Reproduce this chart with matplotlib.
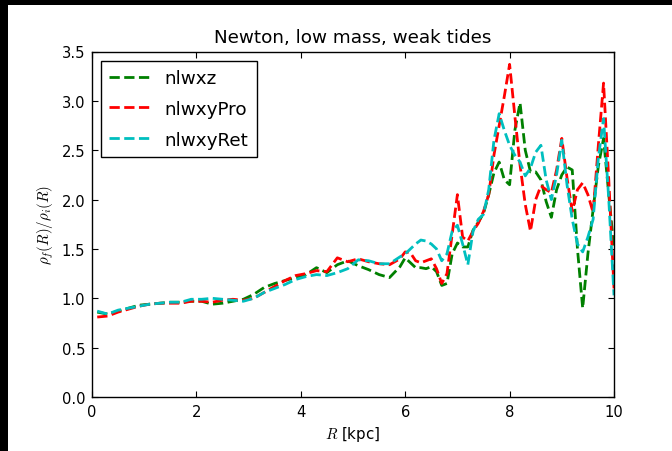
import matplotlib
matplotlib.use('Agg')
import matplotlib.pyplot as plt
from matplotlib.patches import Rectangle

# radial grid: coarse inner part, finer outer part
r_inner = [0.1, 0.3, 0.5, 0.7, 0.9, 1.1, 1.3, 1.5, 1.7, 1.9, 2.1, 2.3, 2.5, 2.7, 2.9,
           3.1, 3.3, 3.5, 3.7, 3.9, 4.1, 4.3, 4.5, 4.7, 4.9, 5.1, 5.3, 5.5, 5.7, 5.9]
r_outer = [6.0, 6.1, 6.2, 6.3, 6.4, 6.5, 6.6, 6.7, 6.8, 6.9, 7.0, 7.1, 7.2, 7.3, 7.4,
           7.5, 7.6, 7.7, 7.8, 7.9, 8.0, 8.1, 8.2, 8.3, 8.4, 8.5, 8.6, 8.7, 8.8, 8.9,
           9.0, 9.1, 9.2, 9.3, 9.4, 9.5, 9.6, 9.7, 9.8, 9.9, 10.0]
R = r_inner + r_outer

nlwxz = [0.86, 0.84, 0.87, 0.90, 0.93, 0.94, 0.95, 0.96, 0.96, 0.97, 0.97, 0.94, 0.95, 0.97, 0.99,
         1.04, 1.11, 1.15, 1.18, 1.21, 1.24, 1.31, 1.26, 1.34, 1.38, 1.33, 1.29, 1.24, 1.21, 1.32,
         1.41, 1.36, 1.31, 1.31, 1.30, 1.32, 1.27, 1.13, 1.15, 1.45, 1.56, 1.52, 1.52, 1.69, 1.77,
         1.86, 2.05, 2.27, 2.38, 2.20, 2.15, 2.70, 2.98, 2.50, 2.28, 2.28, 2.20, 1.98, 1.82, 2.10,
         2.25, 2.33, 2.30, 1.50, 0.90, 1.45, 1.90, 2.34, 2.62, 2.05, 1.50]
nlwxyPro = [0.81, 0.82, 0.86, 0.89, 0.92, 0.94, 0.95, 0.95, 0.95, 0.97, 0.97, 0.96, 0.98, 0.99, 0.98,
            1.00, 1.06, 1.12, 1.18, 1.23, 1.25, 1.28, 1.27, 1.41, 1.37, 1.40, 1.37, 1.35, 1.34, 1.40,
            1.47, 1.46, 1.38, 1.36, 1.38, 1.40, 1.30, 1.15, 1.25, 1.65, 2.05, 1.62, 1.58, 1.68, 1.76,
            1.88, 2.05, 2.45, 2.75, 3.05, 3.37, 2.85, 2.35, 1.95, 1.68, 2.00, 2.14, 2.10, 2.07, 2.30,
            2.62, 2.22, 1.88, 2.10, 2.17, 2.05, 1.87, 2.55, 3.18, 2.20, 1.10]
nlwxyRet = [0.87, 0.84, 0.88, 0.90, 0.92, 0.94, 0.95, 0.96, 0.96, 0.99, 0.99, 1.00, 0.99, 0.98, 0.97,
            1.00, 1.06, 1.10, 1.14, 1.19, 1.22, 1.24, 1.23, 1.26, 1.30, 1.39, 1.38, 1.35, 1.35, 1.42,
            1.45, 1.50, 1.55, 1.59, 1.58, 1.55, 1.50, 1.38, 1.45, 1.68, 1.74, 1.55, 1.34, 1.68, 1.80,
            1.85, 2.10, 2.60, 2.87, 2.70, 2.55, 2.45, 2.38, 2.24, 2.32, 2.48, 2.55, 2.20, 2.00, 2.25,
            2.60, 2.15, 1.80, 1.55, 1.47, 1.62, 1.80, 2.42, 2.82, 2.00, 1.03]

plt.rcParams['mathtext.fontset'] = 'cm'
plt.rcParams['xtick.direction'] = 'in'
plt.rcParams['ytick.direction'] = 'in'
plt.rcParams['xtick.top'] = True
plt.rcParams['ytick.right'] = True

fig = plt.figure(figsize=(6.72, 4.52), dpi=100, facecolor='white')
# thin black strips at top and left, as in the screenshot
fig.patches.append(Rectangle((0, 0), 8 / 672, 1, transform=fig.transFigure,
                             facecolor='black', edgecolor='none'))
fig.patches.append(Rectangle((0, 1 - 6 / 452), 1, 6 / 452, transform=fig.transFigure,
                             facecolor='black', edgecolor='none'))
ax = fig.add_axes([92 / 672, 54 / 452, (614 - 92) / 672, (398 - 52.5) / 452])

ax.plot(R, nlwxz, '--', color='green', lw=2, label='nlwxz')
ax.plot(R, nlwxyPro, '--', color='red', lw=2, label='nlwxyPro')
ax.plot(R, nlwxyRet, '--', color=(0, 0.75, 0.75), lw=2, label='nlwxyRet')

ax.set_xlim(0, 10)
ax.set_ylim(0, 3.5)
ax.set_yticks([0.0, 0.5, 1.0, 1.5, 2.0, 2.5, 3.0, 3.5])
ax.tick_params(labelsize=10.6, length=4, width=0.8, pad=5)
for s in ax.spines.values():
    s.set_linewidth(1.0)

ax.set_title('Newton, low mass, weak tides', fontsize=13.2, pad=7)
ax.set_xlabel(r'$R$ [kpc]', fontsize=10.8)
ax.set_ylabel(r'$\rho_f(R)/\rho_i(R)$', fontsize=10.8)

leg = ax.legend(loc='upper left', fontsize=13.2, fancybox=False, framealpha=1,
                handlelength=2.2, borderpad=0.45, labelspacing=0.7,
                borderaxespad=0.5)
leg.get_frame().set_edgecolor('black')
leg.get_frame().set_linewidth(1.0)

fig.savefig('out.png', dpi=100, facecolor=fig.get_facecolor())
